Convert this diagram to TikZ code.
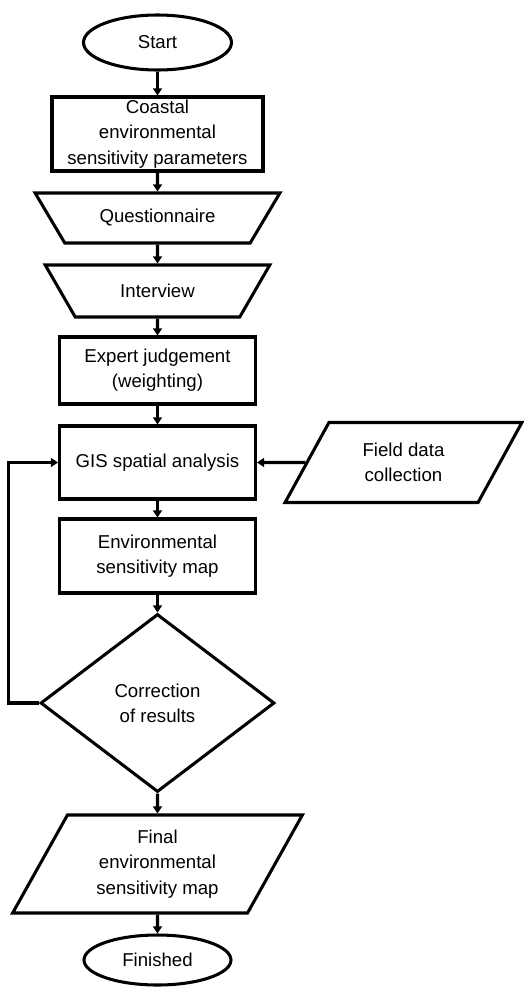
\documentclass[tikz,border=0pt]{standalone}
\usepackage{fontspec}
\setmainfont{Liberation Sans}
\usetikzlibrary{arrows.meta,shapes.geometric}
\tikzstyle{oval} = [ellipse, draw = black, line width = 2.6pt, inner sep = 1pt]
\tikzstyle{brick} = [rectangle, draw = black, line width = 2.6pt, inner sep = 1pt, align = center]
\tikzstyle{funnel} = [trapezium, shape border rotate = 180, trapezium stretches = true, draw = black, line width = 2.6pt, inner sep = 1pt, align = center]
\tikzstyle{slab} = [trapezium, trapezium stretches = true, draw = black, line width = 2.6pt, inner sep = 1pt, align = center]
\tikzstyle{check} = [diamond, draw = black, line width = 2.6pt, inner sep = 1pt, align = center]
\tikzstyle{link} = [-{Triangle[length = 6pt, width = 7.5pt]}, line width = 2.6pt]

\begin{document}
\begin{tikzpicture}[font = \fontsize{15.9}{21.5}\selectfont]
        \useasboundingbox (-4.725,1.275) rectangle (10.965,-28.335);
        \node (start) [oval, minimum width = 4.44cm, minimum height = 1.65cm] {Start};
        \node (coast) [brick, node distance = 2.745cm, below of = start, minimum width = 6.33cm, minimum height = 2.22cm] {Coastal\\environmental\\sensitivity parameters};
        \node (quest) [funnel, node distance = 2.52cm, below of = coast, trapezium left angle = 45.6, trapezium right angle = 45.6, minimum width = 7.35cm, minimum height = 1.5cm] {Questionnaire};
        \node (inter) [funnel, node distance = 2.19cm, below of = quest, trapezium left angle = 48.8, trapezium right angle = 48.8, minimum width = 6.78cm, minimum height = 1.56cm] {Interview};
        \node (expert) [brick, node distance = 2.385cm, below of = inter, minimum width = 5.88cm, minimum height = 2.01cm] {Expert judgement\\(weighting)};
        \node (gis) [brick, node distance = 2.76cm, below of = expert, minimum width = 5.88cm, minimum height = 2.19cm] {GIS spatial analysis};
        \node (field) [slab, node distance = 7.38cm, right of = gis, trapezium left angle = 59, trapezium right angle = 121, minimum width = 7.11cm, minimum height = 2.4cm] {Field data\\collection};
        \node (envmap) [brick, node distance = 2.805cm, below of = gis, minimum width = 5.88cm, minimum height = 2.22cm] {Environmental\\sensitivity map};
        \node (corr) [check, node distance = 4.41cm, below of = envmap, minimum width = 7.02cm, minimum height = 5.34cm] {Correction\\of results};
        \node (final) [slab, node distance = 4.83cm, below of = corr, trapezium left angle = 61.6, trapezium right angle = 118.4, minimum width = 8.7cm, minimum height = 2.94cm] {Final\\environmental\\sensitivity map};
        \node (fin) [oval, node distance = 2.88cm, below of = final, minimum width = 4.41cm, minimum height = 1.5cm] {Finished};
        \draw [link] (start) -- (coast);
        \draw [link] (coast) -- (quest);
        \draw [link] (quest) -- (inter);
        \draw [link] (inter) -- (expert);
        \draw [link] (expert) -- (gis);
        \draw [link] (field) -- (gis);
        \draw [link] (gis) -- (envmap);
        \draw [link] (envmap) -- (corr);
        \draw [link] (corr.west) -- ++(-0.9,0) |- (gis.west);
        \draw [link] (corr) -- (final);
        \draw [link] (final) -- (fin);
    \end{tikzpicture}
\end{document}
